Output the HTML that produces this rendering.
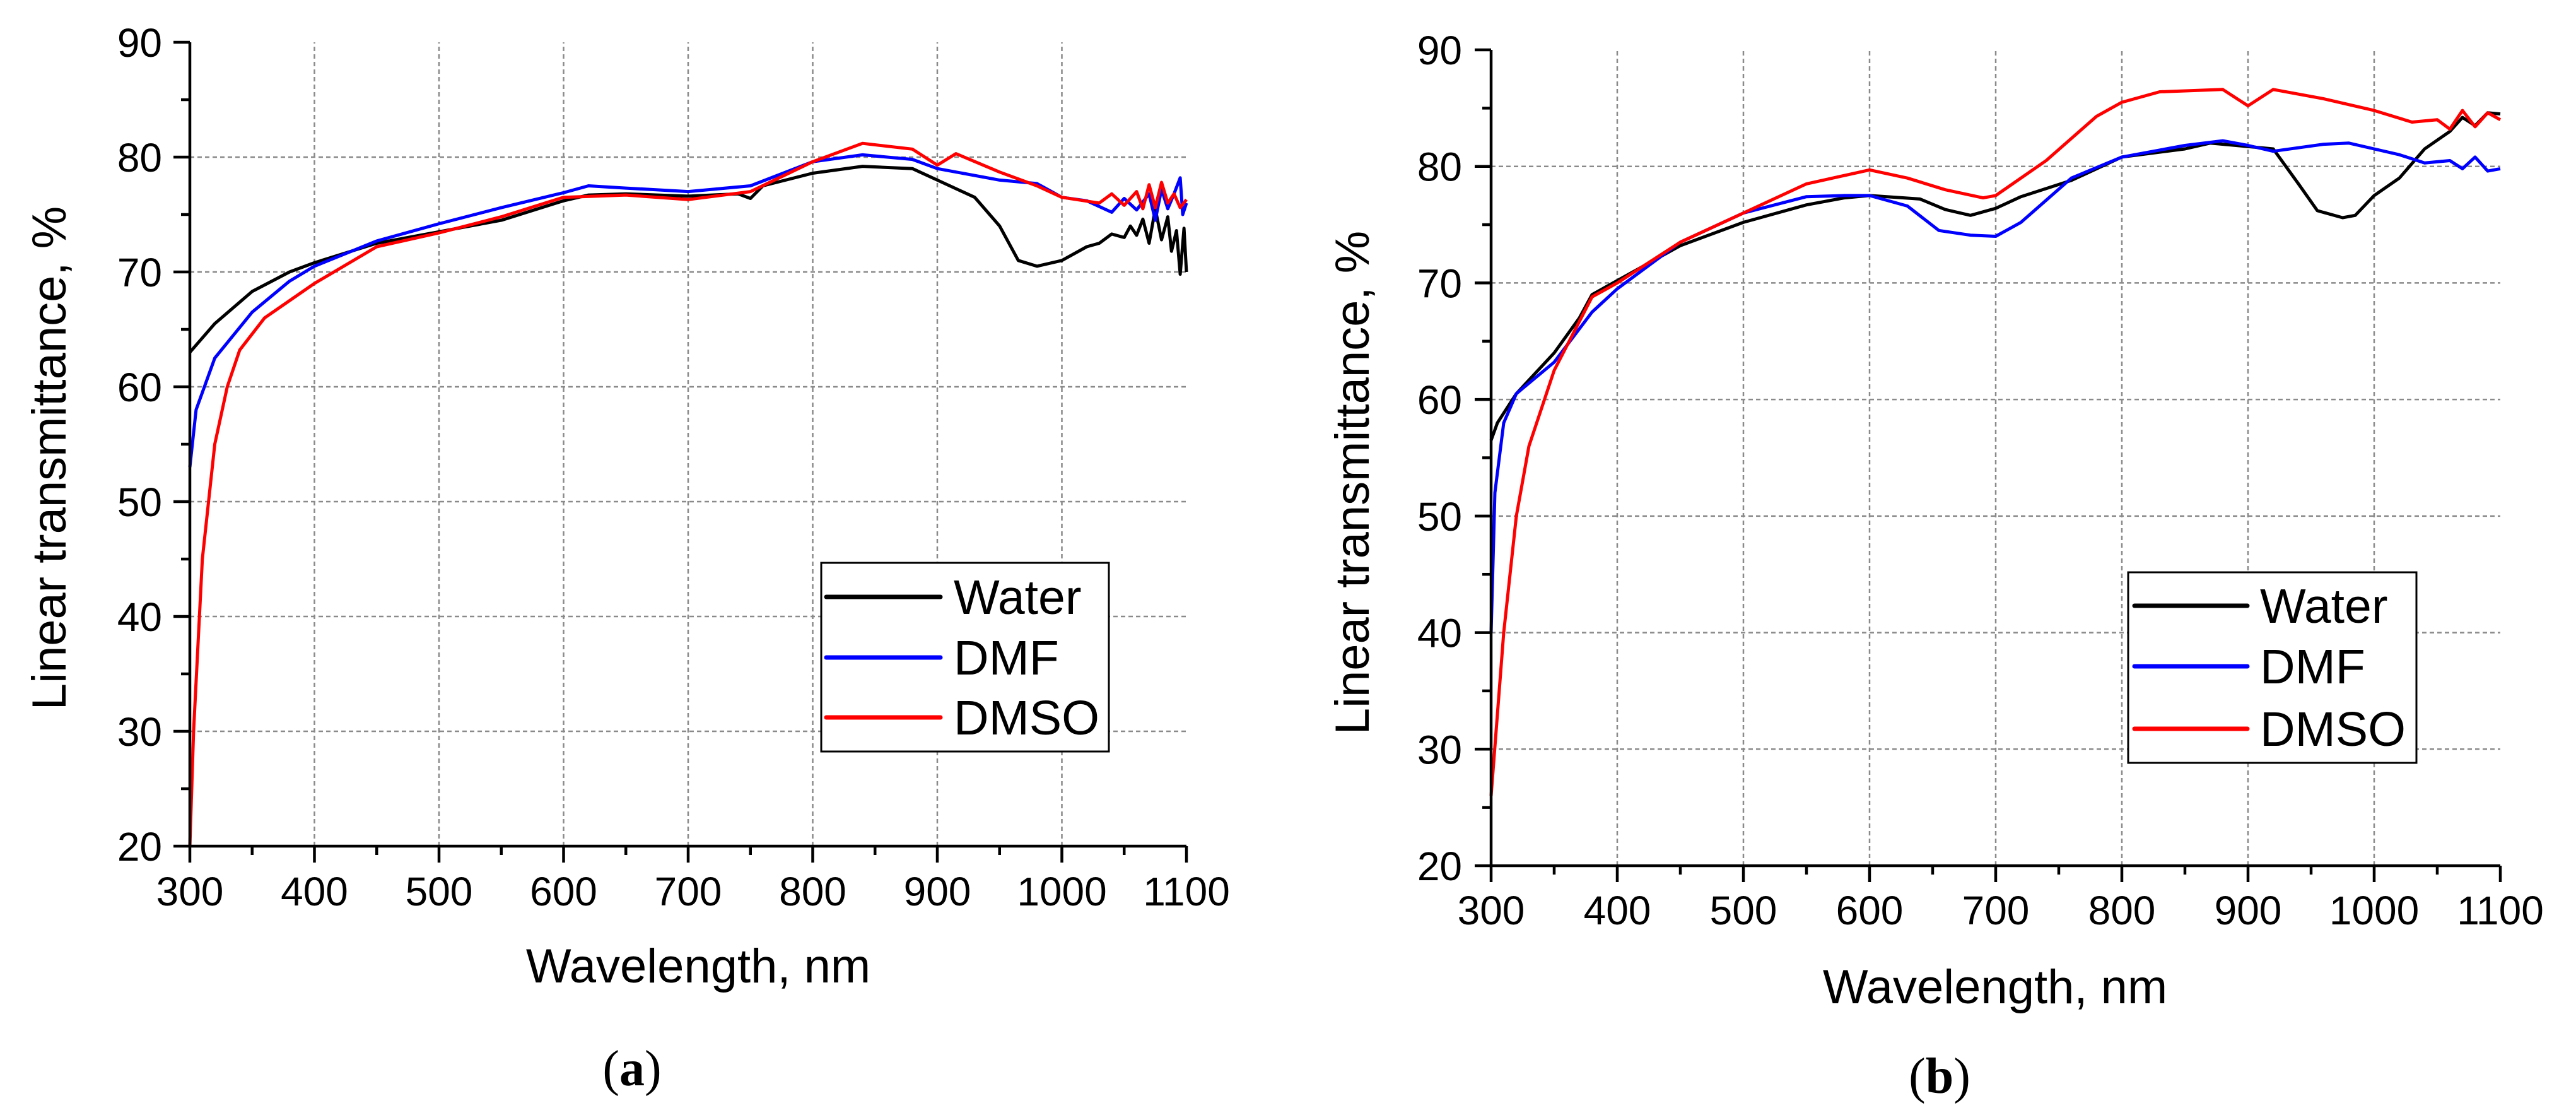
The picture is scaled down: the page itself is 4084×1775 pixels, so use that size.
<!DOCTYPE html>
<html><head><meta charset="utf-8"><style>
html,body{margin:0;padding:0;background:#fff;}
svg{display:block;font-family:"Liberation Sans",Arial,sans-serif;}
</style></head>
<body>
<svg id="chart" width="4084" height="1775" viewBox="0 0 4084 1775" xmlns="http://www.w3.org/2000/svg">
<rect width="4084" height="1775" fill="#fff"/>
</svg>
<script>
// ---- data ----
const seriesNames = ["Water", "DMF", "DMSO"];
const seriesColors = ["#000000", "#0000ff", "#ff0000"];
const xTicks = [300, 400, 500, 600, 700, 800, 900, 1000, 1100];
const yTicks = [20, 30, 40, 50, 60, 70, 80, 90];

// Panel (a)
const aWaterX = [300,320,350,380,400,450,500,550,600,620,650,700,740,750,760,800,840,880,900,930,950,965,980,1000,1020,1030,1040,1050,1055,1060,1065,1070,1075,1080,1085,1088,1092,1095,1098,1100];
const aWaterY = [63,65.5,68.3,70,70.8,72.5,73.5,74.5,76.2,76.7,76.8,76.6,76.8,76.4,77.5,78.6,79.2,79,78,76.5,74,71,70.5,71,72.2,72.5,73.3,73,74,73.2,74.6,72.5,75.5,72.8,74.8,71.8,73.6,69.8,73.8,70];
const aDmfX = [300,305,320,350,380,400,450,500,550,600,620,650,700,750,800,840,880,900,950,980,1000,1020,1040,1050,1060,1070,1075,1080,1085,1090,1095,1097,1100];
const aDmfY = [53,58,62.5,66.5,69.2,70.5,72.7,74.2,75.6,76.9,77.5,77.3,77,77.5,79.6,80.2,79.8,79,78,77.7,76.5,76.2,75.2,76.4,75.4,76.8,74.5,77.2,75.5,76.8,78.2,75,76];
const aDmsoX = [300,303,310,320,330,340,360,400,450,500,550,600,650,700,750,800,840,880,900,915,950,980,1000,1030,1040,1050,1060,1065,1070,1075,1080,1085,1090,1095,1100];
const aDmsoY = [20,30,45,55,60,63.2,66,69,72.2,73.4,74.8,76.5,76.7,76.3,77,79.6,81.2,80.7,79.3,80.3,78.7,77.5,76.5,76,76.8,75.8,77,75.5,77.6,75.6,77.8,76,76.8,75.6,76.3];

// Panel (b)
const bWaterX = [300,305,320,350,370,380,400,450,500,550,580,600,640,660,680,700,720,760,800,850,870,900,920,940,955,975,985,1000,1020,1040,1060,1070,1080,1090,1100];
const bWaterY = [56.5,58,60.5,64,67,69,70.2,73.2,75.2,76.7,77.3,77.5,77.2,76.3,75.8,76.4,77.4,78.8,80.8,81.5,82,81.7,81.5,78.5,76.2,75.6,75.8,77.5,79,81.5,83,84.2,83.5,84.6,84.5];
const bDmfX = [300,303,310,320,350,380,400,450,500,550,580,600,630,655,680,700,720,760,800,850,880,900,920,960,980,1000,1020,1040,1060,1070,1080,1090,1100];
const bDmfY = [40,52,58,60.5,63.2,67.5,69.5,73.5,76,77.4,77.5,77.5,76.6,74.5,74.1,74,75.2,79,80.8,81.8,82.2,81.8,81.3,81.9,82,81.5,81,80.3,80.5,79.8,80.8,79.6,79.8];
const bDmsoX = [300,310,320,330,350,380,400,450,500,550,600,630,660,690,700,740,780,800,830,880,900,920,960,1000,1030,1050,1060,1070,1080,1090,1100];
const bDmsoY = [26,40,50,56,62.5,68.8,70,73.5,76,78.5,79.7,79,78,77.3,77.5,80.5,84.3,85.5,86.4,86.6,85.2,86.6,85.8,84.8,83.8,84,83.2,84.8,83.4,84.6,84];

const panels = [
  {id:"a", x0:301, x1:1881, y0:1341, y1:67, xs:[aWaterX,aDmfX,aDmsoX], ys:[aWaterY,aDmfY,aDmsoY],
   ylab:{x:104,y:726}, xlab:{x:1107,y:1557}, cap:{x:1002,y:1720}, xtickY:1435, ytickR:257,
   leg:{x:1302,y:892,w:456,h:299,rows:[946,1042,1137],lx0:1310,lx1:1491,tx:1512}},
  {id:"b", x0:2364, x1:3964, y0:1372, y1:79, xs:[bWaterX,bDmfX,bDmsoX], ys:[bWaterY,bDmfY,bDmsoY],
   ylab:{x:2170,y:765}, xlab:{x:3163,y:1590}, cap:{x:3075,y:1732}, xtickY:1465, ytickR:2318,
   leg:{x:3374,y:907,w:457,h:302,rows:[960,1056,1155],lx0:3384,lx1:3563,tx:3583}}
];

const NS = "http://www.w3.org/2000/svg";
const svg = document.getElementById("chart");
function mk(tag, attrs, parent){ const e=document.createElementNS(NS,tag); for(const k in attrs) e.setAttribute(k,attrs[k]); (parent||svg).appendChild(e); return e; }

panels.forEach(p=>{
  const g = mk("g",{});
  
  
  const sx = v => p.x0 + (v-300)/800*(p.x1-p.x0);
  const sy = v => p.y0 - (v-20)/70*(p.y0-p.y1);
  xTicks.forEach(t=>{ if(t===300||t===1100) return;
    const l=mk("line",{x1:sx(t),x2:sx(t),y1:sy(20),y2:sy(90),stroke:"#8a8a8a","stroke-width":2.5,"stroke-dasharray":"7 5"},g);
    
    
  });
  yTicks.forEach(t=>{ if(t===20||t===90) return;
    const l=mk("line",{x1:sx(300),x2:sx(1100),y1:sy(t),y2:sy(t),stroke:"#8a8a8a","stroke-width":2.5,"stroke-dasharray":"7 5"},g);
    
    
  });
  p.xs.forEach((xa,i)=>{
    const d = xa.map((x,j)=>(j?"L":"M")+sx(x).toFixed(1)+" "+sy(p.ys[i][j]).toFixed(1)).join(" ");
    const pa = mk("path",{d:d,fill:"none",stroke:seriesColors[i],"stroke-width":5,"stroke-linejoin":"round"},g);
    
    
  });
  const ax = mk("path",{d:`M${sx(300)} ${sy(90)} L${sx(300)} ${sy(20)} L${sx(1100)} ${sy(20)}`,fill:"none",stroke:"#000","stroke-width":4.5},g);
  
  
  xTicks.forEach((t,i)=>{
    mk("line",{x1:sx(t),x2:sx(t),y1:sy(20),y2:sy(20)+26,stroke:"#000","stroke-width":4.5},g);
    if(i<xTicks.length-1){ const m=t+50; mk("line",{x1:sx(m),x2:sx(m),y1:sy(20),y2:sy(20)+14,stroke:"#000","stroke-width":4.5},g); }
    const tx = mk("text",{x:sx(t),y:p.xtickY,"font-size":64,"text-anchor":"middle",fill:"#000"},g);
    tx.textContent = t;
    
    
  });
  yTicks.forEach((t,i)=>{
    mk("line",{x1:sx(300)-26,x2:sx(300),y1:sy(t),y2:sy(t),stroke:"#000","stroke-width":4.5},g);
    if(i<yTicks.length-1){ const m=t+5; mk("line",{x1:sx(300)-14,x2:sx(300),y1:sy(m),y2:sy(m),stroke:"#000","stroke-width":4.5},g); }
    const tx = mk("text",{x:p.ytickR,y:sy(t)+23,"font-size":64,"text-anchor":"end",fill:"#000"},g);
    tx.textContent = t;
    
    
  });
  const yl = mk("text",{x:p.ylab.x,y:p.ylab.y,"font-size":76,"text-anchor":"middle",transform:`rotate(-90 ${p.ylab.x} ${p.ylab.y})`},g);
  yl.textContent = "Linear transmittance, %";
  
  
  const xl = mk("text",{x:p.xlab.x,y:p.xlab.y,"font-size":76,"text-anchor":"middle"},g);
  xl.textContent = "Wavelength, nm";
  
  
  const cp = mk("text",{x:p.cap.x,y:p.cap.y,"font-size":80,"text-anchor":"middle","font-family":"Liberation Serif, serif"},g);
  cp.innerHTML = '(<tspan font-weight="bold">'+p.id+'</tspan>)';
  
  
  const lg = mk("g",{},g);
  
  
  mk("rect",{x:p.leg.x,y:p.leg.y,width:p.leg.w,height:p.leg.h,fill:"#fff",stroke:"#000","stroke-width":3},lg);
  seriesNames.forEach((n,i)=>{
    const e = mk("g",{},lg);
    
    
    mk("line",{x1:p.leg.lx0,x2:p.leg.lx1,y1:p.leg.rows[i],y2:p.leg.rows[i],stroke:seriesColors[i],"stroke-width":7,"stroke-linecap":"round"},e);
    const t = mk("text",{x:p.leg.tx,y:p.leg.rows[i]+27,"font-size":77},e);
    t.textContent = n;
  });
});
</script>
</body></html>
